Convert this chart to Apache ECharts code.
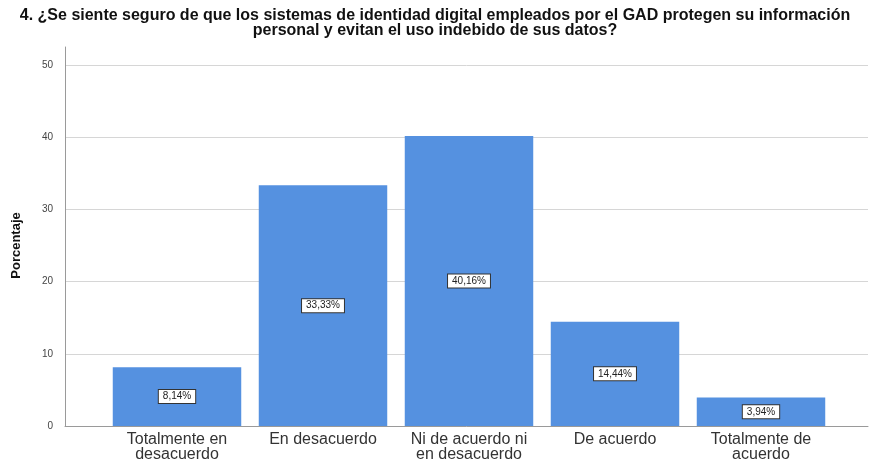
<!DOCTYPE html>
<html>
<head>
<meta charset="utf-8">
<script src="https://cdn.jsdelivr.net/npm/echarts@6/dist/echarts.min.js"></script>
<style>
  html, body { margin: 0; padding: 0; background: #ffffff; }
  #chart { width: 870px; height: 470px; }
</style>
</head>
<body>
<div id="chart"></div>
<script>
// Survey answers and their share of respondents (%)
const categories = [
  'Totalmente en\ndesacuerdo',
  'En desacuerdo',
  'Ni de acuerdo ni\nen desacuerdo',
  'De acuerdo',
  'Totalmente de\nacuerdo'
];
const percentages = [8.14, 33.33, 40.16, 14.44, 3.94];
const yTicks = { min: 0, max: 50, interval: 10 };

const titleText = '4. ¿Se siente seguro de que los sistemas de identidad digital empleados por el GAD protegen su información\npersonal y evitan el uso indebido de sus datos?';

const chart = echarts.init(document.getElementById('chart'), null, { renderer: 'canvas' });

const axisGrey = '#9a9a9a';
const gridGrey = '#d6d6d6';
const barBlue = '#5591e0';
const font = 'Liberation Sans, Arial, sans-serif';

chart.setOption({
  animation: false,
  backgroundColor: '#ffffff',
  title: {
    text: titleText,
    left: 'center',
    top: 3,
    textStyle: {
      fontFamily: font,
      fontWeight: 'bold',
      fontSize: 16,
      lineHeight: 15,
      color: '#111111'
    }
  },
  grid: [
    // frame: gridlines, value labels, bottom axis line
    { left: 65, right: 2, top: 65, bottom: 44 },
    // taller left axis line
    { left: 65, right: 2, top: 47, bottom: 44 },
    // bars
    { left: 104, width: 730, top: 65, bottom: 44 }
  ],
  xAxis: [
    {
      gridIndex: 0, type: 'value', min: 0, max: 1,
      axisLine: { show: true, lineStyle: { color: axisGrey, width: 1 } },
      axisTick: { show: false }, axisLabel: { show: false }, splitLine: { show: false }
    },
    {
      gridIndex: 1, type: 'value', min: 0, max: 1, show: false
    },
    {
      gridIndex: 2, type: 'category', data: categories,
      axisLine: { show: false }, axisTick: { show: false },
      axisLabel: {
        interval: 0, margin: 6,
        fontFamily: font,
        fontSize: 16, lineHeight: 15, color: '#333333'
      }
    }
  ],
  yAxis: [
    {
      gridIndex: 0, type: 'value',
      min: yTicks.min, max: yTicks.max, interval: yTicks.interval,
      name: 'Porcentaje', nameLocation: 'middle', nameGap: 42, nameRotate: 90,
      nameTextStyle: {
        fontFamily: font,
        fontWeight: 'bold', fontSize: 13, color: '#111111'
      },
      axisLine: { show: false },
      axisTick: { show: false },
      axisLabel: {
        margin: 12, fontFamily: font,
        fontSize: 10, color: '#444444'
      },
      splitLine: { show: true, lineStyle: { color: gridGrey, width: 1 } }
    },
    {
      gridIndex: 1, type: 'value', min: 0, max: 1,
      axisLine: { show: true, lineStyle: { color: axisGrey, width: 1 } },
      axisTick: { show: false }, axisLabel: { show: false }, splitLine: { show: false }
    },
    {
      gridIndex: 2, type: 'value',
      min: yTicks.min, max: yTicks.max, interval: yTicks.interval,
      show: false
    }
  ],
  series: [
    {
      type: 'bar',
      xAxisIndex: 2, yAxisIndex: 2,
      data: percentages,
      barCategoryGap: '12%',
      itemStyle: { color: barBlue },
      label: {
        show: true,
        position: 'inside',
        formatter: p => p.value.toFixed(2).replace('.', ',') + '%',
        fontFamily: font,
        fontSize: 10,
        color: '#222222',
        backgroundColor: '#ffffff',
        borderColor: '#333333',
        borderWidth: 1,
        padding: [2, 4, 1, 4]
      }
    }
  ]
});
</script>
</body>
</html>
